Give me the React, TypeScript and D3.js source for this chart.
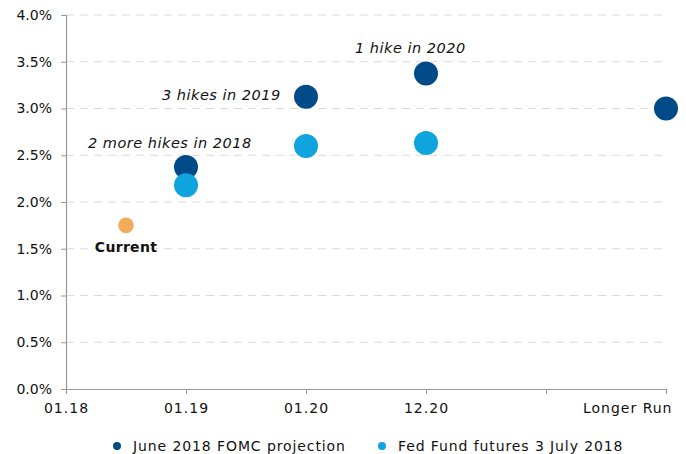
import * as d3 from 'd3';
import React, { useEffect, useRef } from 'react';

// x positions are slot indices on the time axis
const xTickLabels = ['01.18', '01.19', '01.20', '12.20', '', 'Longer Run'];
const yTicks = [0, 0.5, 1, 1.5, 2, 2.5, 3, 3.5, 4];

const fomcSlots = [1, 2, 3, 5];
const fomcValues = [2.375, 3.125, 3.375, 3.0];

const futuresSlots = [1, 2, 3];
const futuresValues = [2.18, 2.6, 2.63];

const currentSlot = 0.5;
const currentValue = 1.75;

const annotationTexts = ['2 more hikes in 2018', '3 hikes in 2019', '1 hike in 2020'];
const annotationSlots = [1, 2, 3];
const annotationValues = [2.375, 3.125, 3.375];
// label offsets from the dot they describe, in pixels
const annotationOffsets = [
  [-98, -19],
  [-144, 3],
  [-71, -20],
];

const legendLabels = ['June 2018 FOMC projection', 'Fed Fund futures 3 July 2018'];
const legendColors = ['#004b87', '#10a4de'];

export default function App() {
  const axisBottomRef = useRef<SVGGElement>(null);
  const axisLeftRef = useRef<SVGGElement>(null);

  const width = 686;
  const height = 454;
  const margin = { top: 15, left: 66 };
  const innerW = 600;
  const innerH = 374;

  const x = d3.scaleLinear().domain([0, 5]).range([0, innerW]);
  const y = d3.scaleLinear().domain([0, 4]).range([innerH, 0]);

  useEffect(() => {
    if (axisBottomRef.current) {
      const g = d3.select(axisBottomRef.current);
      g.call(
        d3
          .axisBottom(x)
          .tickValues(d3.range(6))
          .tickSize(5)
          .tickPadding(3)
          .tickFormat((d) => xTickLabels[d as number]),
      );
      g.attr('font-size', 14).attr('font-family', 'DejaVu Sans');
      g.select('.domain').attr('stroke', '#999').attr('stroke-width', 1.2);
      g.selectAll('.tick line').attr('stroke', '#999');
      g.selectAll('.tick text')
        .attr('fill', '#111')
        .attr('font-size', 14)
        .attr('letter-spacing', 1)
        .attr('dy', '1.15em')
        .attr('text-anchor', (d) => ((d as number) === 5 ? 'end' : 'middle'))
        .attr('dx', (d) => ((d as number) === 5 ? 6 : 0));
    }
    if (axisLeftRef.current) {
      const g = d3.select(axisLeftRef.current);
      g.call(
        d3
          .axisLeft(y)
          .tickValues(yTicks)
          .tickSize(5)
          .tickPadding(9)
          .tickFormat((d) => `${(d as number).toFixed(1)}%`),
      );
      g.attr('font-size', 14).attr('font-family', 'DejaVu Sans');
      g.select('.domain').attr('stroke', '#999').attr('stroke-width', 1.2);
      g.selectAll('.tick line').attr('stroke', '#999');
      g.selectAll('.tick text').attr('fill', '#111').attr('font-size', 14);
    }
  }, []);

  return (
    <svg
      width={width}
      height={height}
      style={{ position: 'absolute', left: 0, top: 0, fontFamily: 'DejaVu Sans', background: '#fff' }}
    >
      <g transform={`translate(${margin.left}, ${margin.top})`}>
        {yTicks
          .filter((t) => t > 0)
          .map((t) => (
            <line
              key={t}
              x1={0}
              x2={597}
              y1={y(t)}
              y2={y(t)}
              stroke="#dadada"
              strokeDasharray="8,6"
            />
          ))}
        <g ref={axisBottomRef} transform={`translate(0, ${innerH})`} />
        <g ref={axisLeftRef} />

        <circle cx={x(currentSlot)} cy={y(currentValue)} r={7.8} fill="#f2ab5a" />
        <text
          x={x(currentSlot)}
          y={y(currentValue) + 27}
          textAnchor="middle"
          style={{ fontSize: '14px', letterSpacing: '0.3px' }}
          fontWeight="bold"
          fill="#111"
        >
          Current
        </text>

        {fomcSlots.map((s, i) => (
          <circle key={`f-${i}`} cx={x(s)} cy={y(fomcValues[i])} r={12} fill="#004b87" />
        ))}
        {futuresSlots.map((s, i) => (
          <circle key={`u-${i}`} cx={x(s)} cy={y(futuresValues[i])} r={12} fill="#10a4de" />
        ))}

        {annotationTexts.map((t, i) => (
          <text
            key={t}
            x={x(annotationSlots[i]) + annotationOffsets[i][0]}
            y={y(annotationValues[i]) + annotationOffsets[i][1]}
            style={{ fontSize: '14.5px', letterSpacing: '0.5px' }}
            fontStyle="italic"
            fill="#111"
          >
            {t}
          </text>
        ))}
      </g>

      <g transform="translate(117, 446)">
        {legendLabels.map((label, i) => (
          <g key={label} transform={`translate(${i * 265}, 0)`}>
            <circle cx={0} cy={0} r={4} fill={legendColors[i]} />
            <text x={16} y={5} style={{ fontSize: '14px', letterSpacing: '0.9px' }} fill="#111">
              {label}
            </text>
          </g>
        ))}
      </g>
    </svg>
  );
}
